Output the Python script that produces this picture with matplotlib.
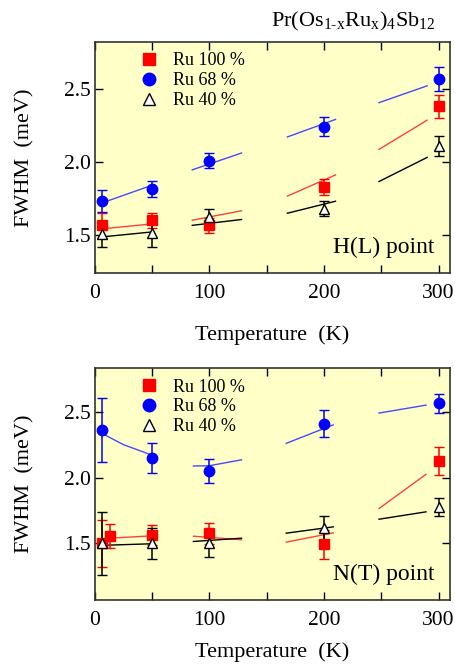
import matplotlib
matplotlib.use("Agg")
import matplotlib.pyplot as plt
from matplotlib.ticker import MultipleLocator

plt.rcParams['font.family'] = ['Liberation Serif', 'DejaVu Serif']
plt.rcParams['mathtext.fontset'] = 'custom'
plt.rcParams['mathtext.rm'] = 'Liberation Serif'

# ---- H(L) point data ----
T_hl = [6, 50, 100, 200, 300]
hl_ru100 = [1.564, 1.60, 1.564, 1.83, 2.38]
hl_ru100_err = [0.085, 0.05, 0.05, 0.055, 0.08]
hl_ru68 = [1.73, 1.816, 2.007, 2.24, 2.568]
hl_ru68_err = [0.077, 0.055, 0.05, 0.065, 0.08]
hl_ru40 = [1.505, 1.51, 1.625, 1.68, 2.107]
hl_ru40_err = [0.088, 0.09, 0.053, 0.05, 0.07]

# ---- N(T) point data ----
T_nt_ru100 = [6, 13, 50, 100, 200, 300]
nt_ru100 = [1.50, 1.558, 1.563, 1.576, 1.495, 2.126]
nt_ru100_err = [0.18, 0.09, 0.075, 0.08, 0.11, 0.105]
T_nt = [6, 50, 100, 200, 300]
nt_ru68 = [2.361, 2.15, 2.05, 2.41, 2.563]
nt_ru68_err = [0.24, 0.115, 0.09, 0.1, 0.07]
nt_ru40 = [1.50, 1.50, 1.50, 1.614, 1.778]
nt_ru40_err = [0.24, 0.12, 0.1, 0.095, 0.07]

# ---- calculated curves (segments) ----
hl_fit_T = [[5, 50], [85, 128], [168, 210], [248, 290]]
hl_fit_ru100 = [[1.54, 1.575], [1.60, 1.665], [1.765, 1.91], [2.085, 2.285]]
hl_fit_ru68 = [[1.715, 1.84], [1.945, 2.06], [2.17, 2.29], [2.405, 2.52]]
hl_fit_ru40 = [[1.485, 1.52], [1.565, 1.605], [1.648, 1.73], [1.865, 2.03]]

nt_fit_T_ru100 = [[13, 50], [86, 128], [167, 208], [248, 289]]
nt_fit_ru100 = [[1.54, 1.558], [1.555, 1.528], [1.51, 1.58], [1.765, 2.025]]
nt_fit_T_ru68 = [[6, 25, 50], [86, 100, 128], [167, 208], [248, 289]]
nt_fit_ru68 = [[2.336, 2.25, 2.17], [2.088, 2.09, 2.135], [2.26, 2.40], [2.49, 2.55]]
nt_fit_T_ru40 = [[3, 48], [86, 128], [167, 208], [248, 289]]
nt_fit_ru40 = [[1.485, 1.497], [1.515, 1.54], [1.578, 1.626], [1.684, 1.74]]

labels = ['Ru 100 %', 'Ru 68 %', 'Ru 40 %']
bg = '#FFFFC8'

fig = plt.figure(figsize=(4.56, 6.72), dpi=100)
ax1 = fig.add_axes([0.208, 0.594, 0.779, 0.3435])
ax2 = fig.add_axes([0.208, 0.107, 0.779, 0.345])


def draw_panel(ax, series, fits, ylim, tag, xpad):
    ax.set_facecolor(bg)
    for fT, fv, col in fits:
        for t, v in zip(fT, fv):
            ax.plot(t, v, color=col, lw=1.0, zorder=2)
    handles = []
    for T, y, e, marker, mfc, mec, ecol in series:
        h = ax.errorbar(T, y, yerr=e, fmt=marker, ms=7.5, mfc=mfc, mec=mec,
                        ecolor=ecol, elinewidth=1.1, capsize=3.5, capthick=1.1,
                        mew=1.0, zorder=3)
        handles.append(h[0])
    ax.legend(handles, labels, loc='upper left', bbox_to_anchor=(0.075, 1.025),
              frameon=False, fontsize=13, handletextpad=0.75, labelspacing=0.15,
              handlelength=1.2, markerscale=1.2)
    ax.set_xlim(0, 310)
    ax.set_ylim(*ylim)
    ax.xaxis.set_major_locator(MultipleLocator(100))
    ax.xaxis.set_minor_locator(MultipleLocator(50))
    ax.yaxis.set_major_locator(MultipleLocator(0.5))
    ax.yaxis.set_major_formatter(plt.FuncFormatter(lambda v, p: f'{v:.1f}'))
    ax.tick_params(which='both', direction='in', top=True, right=True,
                   length=6, width=1, labelsize=15.5, pad=8)
    ax.tick_params(axis='y', pad=3)
    for s in ax.spines.values():
        s.set_linewidth(1.2)
        s.set_color('#333333')
    ax.set_xlabel('Temperature  (K)', fontsize=16, labelpad=xpad)
    ax.set_ylabel('FWHM  (meV)', fontsize=16, labelpad=21)
    ax.text(0.955, 0.085, tag, transform=ax.transAxes, ha='right',
            va='baseline', fontsize=17)


draw_panel(ax1,
           [(T_hl, hl_ru100, hl_ru100_err, 's', 'red', 'red', 'red'),
            (T_hl, hl_ru68, hl_ru68_err, 'o', 'blue', 'blue', 'blue'),
            (T_hl, hl_ru40, hl_ru40_err, '^', 'white', 'black', 'black')],
           [(hl_fit_T, hl_fit_ru100, '#FF4040'),
            (hl_fit_T, hl_fit_ru68, '#4848FF'),
            (hl_fit_T, hl_fit_ru40, 'black')],
           (1.24, 2.82), 'H(L) point', 16)

draw_panel(ax2,
           [(T_nt_ru100, nt_ru100, nt_ru100_err, 's', 'red', 'red', 'red'),
            (T_nt, nt_ru68, nt_ru68_err, 'o', 'blue', 'blue', 'blue'),
            (T_nt, nt_ru40, nt_ru40_err, '^', 'white', 'black', 'black')],
           [(nt_fit_T_ru100, nt_fit_ru100, '#FF4040'),
            (nt_fit_T_ru68, nt_fit_ru68, '#4848FF'),
            (nt_fit_T_ru40, nt_fit_ru40, 'black')],
           (1.07, 2.83), 'N(T) point', 9)

fig.text(0.955, 0.968, r'Pr(Os$_{1\text{-}\mathrm{x}}$Ru$_\mathrm{x}$)$_4$Sb$_{12}$',
         ha='right', va='center', fontsize=16)

fig.savefig('out.png', dpi=100)
